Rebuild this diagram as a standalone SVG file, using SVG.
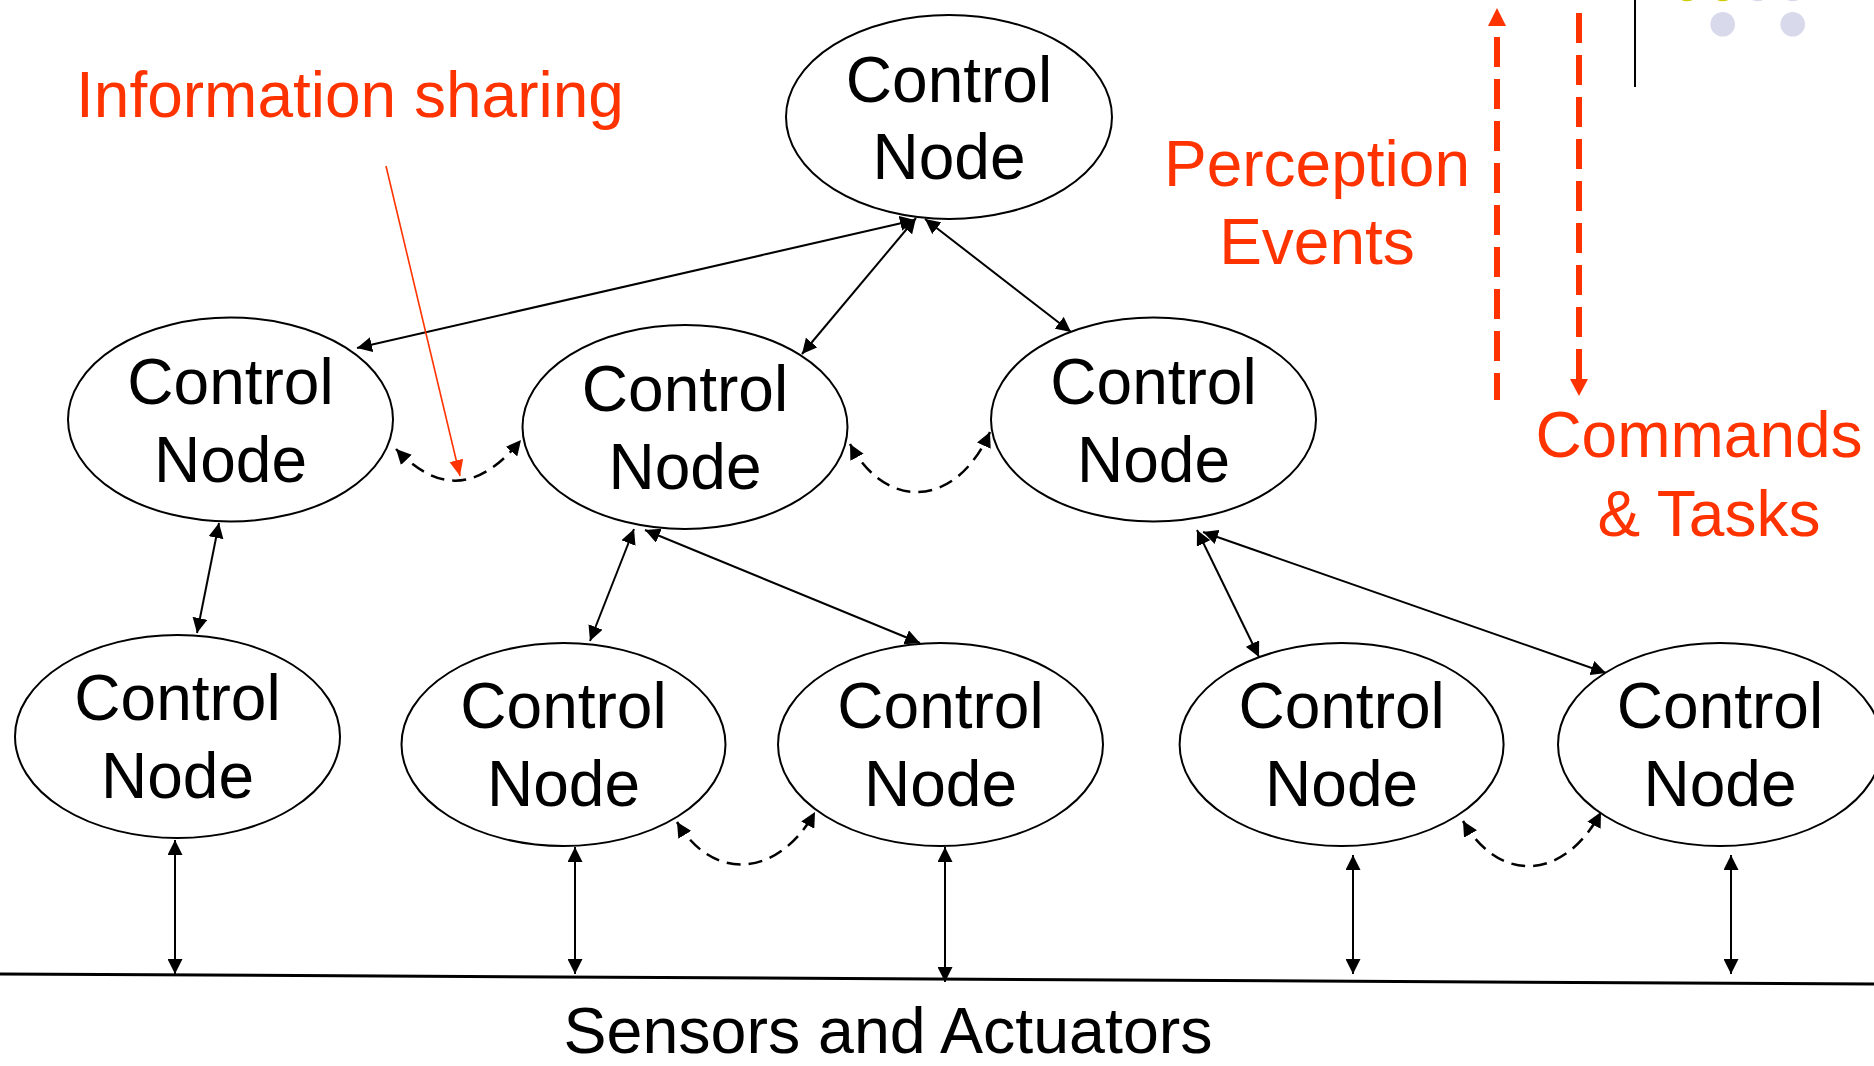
<svg xmlns="http://www.w3.org/2000/svg" width="1874" height="1066" viewBox="0 0 1874 1066">
<style>
  .node ellipse { fill: #FFFFFF; stroke: #000000; stroke-width: 2; }
  .node text { font-family: "Liberation Sans", Arial, sans-serif; font-size: 64px; fill: #000000; text-anchor: middle; }
  .link { fill: none; stroke: #000000; stroke-width: 2; marker-start: url(#ah); marker-end: url(#ah); }
  .share { fill: none; stroke: #000000; stroke-width: 2.5; stroke-dasharray: 14 8; marker-start: url(#ah); marker-end: url(#ah); }
  .red { font-family: "Liberation Sans", Arial, sans-serif; font-size: 64px; fill: #FF3300; }
  .reddash { fill: none; stroke: #FF3300; stroke-width: 6; stroke-dasharray: 30 12; }
  .label { font-family: "Liberation Sans", Arial, sans-serif; font-size: 64.5px; fill: #000000; text-anchor: middle; }
</style>
<defs>
  <marker id="ah" viewBox="0 0 15 15" refX="15" refY="7.5" markerWidth="15" markerHeight="15" markerUnits="userSpaceOnUse" orient="auto-start-reverse">
    <path d="M0,0 L15,7.5 L0,15 Z" fill="#000000"/>
  </marker>
  <marker id="redah" viewBox="0 0 16 14" refX="16" refY="7" markerWidth="16" markerHeight="14" markerUnits="userSpaceOnUse" orient="auto">
    <path d="M0,0 L16,7 L0,14 Z" fill="#FF3300"/>
  </marker>
</defs>
<rect width="1874" height="1066" fill="#FFFFFF"/>

<!-- decorative corner -->
<g id="decor">
  <line x1="1635" y1="0" x2="1635" y2="87" stroke="#000000" stroke-width="2"/>
  <circle cx="1687" cy="-11" r="12.3" fill="#CCCC00"/>
  <circle cx="1722.7" cy="-11" r="12.3" fill="#CCCC00"/>
  <circle cx="1757.7" cy="-11" r="12.3" fill="#D9D9EC"/>
  <circle cx="1792.7" cy="-11" r="12.3" fill="#D9D9EC"/>
  <circle cx="1722.7" cy="24.3" r="12.3" fill="#D9D9EC"/>
  <circle cx="1792.7" cy="24.3" r="12.3" fill="#D9D9EC"/>
</g>

<!-- connectors -->
<g id="connectors">
  <line class="link" x1="915" y1="220" x2="357" y2="348"/>
  <line class="link" x1="916" y1="218" x2="802" y2="354"/>
  <line class="link" x1="925" y1="219" x2="1071" y2="332"/>
  <line class="link" x1="219" y1="523" x2="197" y2="633"/>
  <line class="link" x1="634" y1="529" x2="590" y2="641"/>
  <line class="link" x1="645" y1="530" x2="920" y2="643"/>
  <line class="link" x1="1197" y1="530" x2="1259" y2="657"/>
  <line class="link" x1="1203" y1="532" x2="1606" y2="673"/>
  <line class="link" x1="175" y1="840" x2="175" y2="974"/>
  <line class="link" x1="575" y1="847" x2="575" y2="974"/>
  <line class="link" x1="945" y1="847" x2="945" y2="982"/>
  <line class="link" x1="1353" y1="855" x2="1353" y2="974"/>
  <line class="link" x1="1731" y1="855" x2="1731" y2="974"/>
  <path class="share" d="M396,449 C440,495 480,490 521,440"/>
  <path class="share" d="M850,444 C885,510 955,510 990,432"/>
  <path class="share" d="M677,822 C715,885 780,875 815,812"/>
  <path class="share" d="M1463,821 C1500,885 1565,880 1601,812"/>
  <line x1="386" y1="166" x2="460" y2="476" stroke="#FF3300" stroke-width="1.6" marker-end="url(#redah)"/>
  <line class="reddash" x1="1497" y1="37" x2="1497" y2="400"/>
  <polygon points="1497,8 1506,26 1488,26" fill="#FF3300"/>
  <line class="reddash" x1="1579" y1="13" x2="1579" y2="380"/>
  <polygon points="1579,396 1588,379 1570,379" fill="#FF3300"/>
  <line x1="0" y1="974" x2="1874" y2="984" stroke="#000000" stroke-width="3"/>
</g>

<!-- nodes -->
<g id="node-top" class="node">
  <ellipse cx="949" cy="117" rx="163" ry="102"/>
  <text x="949" y="102">Control</text>
  <text x="949" y="179">Node</text>
</g>
<g id="node-mid-left" class="node">
  <ellipse cx="230.5" cy="419.5" rx="162.5" ry="102"/>
  <text x="230.5" y="404">Control</text>
  <text x="230.5" y="482">Node</text>
</g>
<g id="node-mid-center" class="node">
  <ellipse cx="685" cy="427" rx="162.5" ry="102"/>
  <text x="685" y="411">Control</text>
  <text x="685" y="489">Node</text>
</g>
<g id="node-mid-right" class="node">
  <ellipse cx="1153.5" cy="419.5" rx="162.5" ry="102"/>
  <text x="1153.5" y="404">Control</text>
  <text x="1153.5" y="482">Node</text>
</g>
<g id="node-bot-1" class="node">
  <ellipse cx="177.5" cy="736.5" rx="162.5" ry="101.5"/>
  <text x="177.5" y="720">Control</text>
  <text x="177.5" y="798">Node</text>
</g>
<g id="node-bot-2" class="node">
  <ellipse cx="563.5" cy="744.5" rx="162" ry="101.5"/>
  <text x="563.5" y="728">Control</text>
  <text x="563.5" y="806">Node</text>
</g>
<g id="node-bot-3" class="node">
  <ellipse cx="940.5" cy="744.5" rx="162.5" ry="101.5"/>
  <text x="940.5" y="728">Control</text>
  <text x="940.5" y="806">Node</text>
</g>
<g id="node-bot-4" class="node">
  <ellipse cx="1341.6" cy="744.5" rx="162" ry="101.5"/>
  <text x="1341.6" y="728">Control</text>
  <text x="1341.6" y="806">Node</text>
</g>
<g id="node-bot-5" class="node">
  <ellipse cx="1720" cy="744.5" rx="162" ry="101.5"/>
  <text x="1720" y="728">Control</text>
  <text x="1720" y="806">Node</text>
</g>

<!-- labels -->
<g id="labels">
  <text class="red" x="76" y="117">Information sharing</text>
  <text class="red" x="1317" y="186" text-anchor="middle">Perception</text>
  <text class="red" x="1317" y="264" text-anchor="middle">Events</text>
  <text class="red" x="1699" y="457" text-anchor="middle">Commands</text>
  <text class="red" x="1709" y="536" text-anchor="middle">&amp; Tasks</text>
  <text class="label" x="888" y="1053">Sensors and Actuators</text>
</g>
</svg>
